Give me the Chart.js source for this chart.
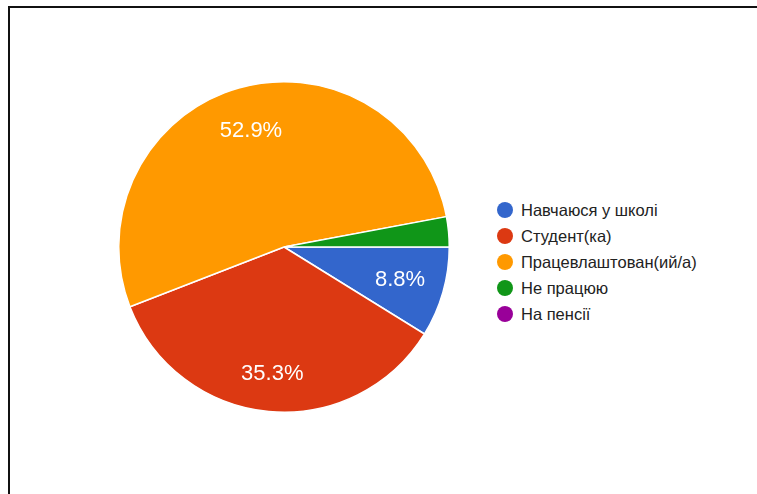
<!DOCTYPE html>
<html>
<head>
<meta charset="utf-8">
<script src="https://cdn.jsdelivr.net/npm/chart.js@4.4.1/dist/chart.umd.min.js"></script>
<style>
  html, body { margin: 0; padding: 0; background: #fff; overflow: hidden; }
  body { width: 757px; height: 494px; position: relative; }
  #ramka { position: absolute; left: 8px; top: 6px; width: 760px; height: 500px;
           border-top: 2px solid #111; border-left: 2px solid #111; }
  #grafBox { position: absolute; left: 118px; top: 81px; width: 332px; height: 332px; }
  #legenda { position: absolute; left: 497px; top: 197px; font-family: "Liberation Sans", Arial, sans-serif;
             font-size: 16.5px; color: #222; }
  .vrsta { height: 26px; display: flex; align-items: center; }
  .pika { width: 16px; height: 16px; border-radius: 50%; margin-right: 8px; }
</style>
</head>
<body>
<div id="ramka"></div>
<div id="grafBox"><canvas id="pieChart"></canvas></div>
<div id="legenda"></div>
<script>
const kategorije = ["Навчаюся у школі", "Студент(ка)", "Працевлаштован(ий/а)", "Не працюю", "На пенсії"];
const odgovori = [3, 12, 18, 1, 0];
const barve = ["#3366cc", "#dc3912", "#ff9900", "#109618", "#990099"];

// procenti v rezinah, kot pri google obrazcih
const napisiPlugin = {
  id: "napisi",
  afterDatasetsDraw(chart) {
    const ctx = chart.ctx;
    const meta = chart.getDatasetMeta(0);
    const vsota = odgovori.reduce((a, b) => a + b, 0);
    ctx.save();
    ctx.fillStyle = "#fff";
    ctx.font = "22px 'Liberation Sans', Arial, sans-serif";
    ctx.textAlign = "center";
    ctx.textBaseline = "middle";
    meta.data.forEach((arc, i) => {
      const delez = odgovori[i] / vsota;
      if (delez < 0.05) return;
      const kot = (arc.startAngle + arc.endAngle) / 2;
      const r = arc.outerRadius * (i === 1 ? 0.77 : 0.73);
      ctx.fillText((delez * 100).toFixed(1) + "%", arc.x + Math.cos(kot) * r, arc.y + Math.sin(kot) * r);
    });
    ctx.restore();
  },
};

new Chart(document.getElementById("pieChart"), {
  type: "pie",
  data: {
    labels: kategorije,
    datasets: [{
      data: odgovori,
      backgroundColor: barve,
      borderColor: "#fff",
      borderWidth: 1.5,
    }],
  },
  options: {
    responsive: true,
    maintainAspectRatio: false,
    animation: false,
    rotation: 90,
    layout: { padding: 0 },
    plugins: { legend: { display: false }, tooltip: { enabled: false } },
  },
  plugins: [napisiPlugin],
});

const legenda = document.getElementById("legenda");
kategorije.forEach((k, i) => {
  const vrsta = document.createElement("div");
  vrsta.className = "vrsta";
  vrsta.innerHTML = `<div class="pika" style="background:${barve[i]}"></div><span>${k}</span>`;
  legenda.appendChild(vrsta);
});
</script>
</body>
</html>
